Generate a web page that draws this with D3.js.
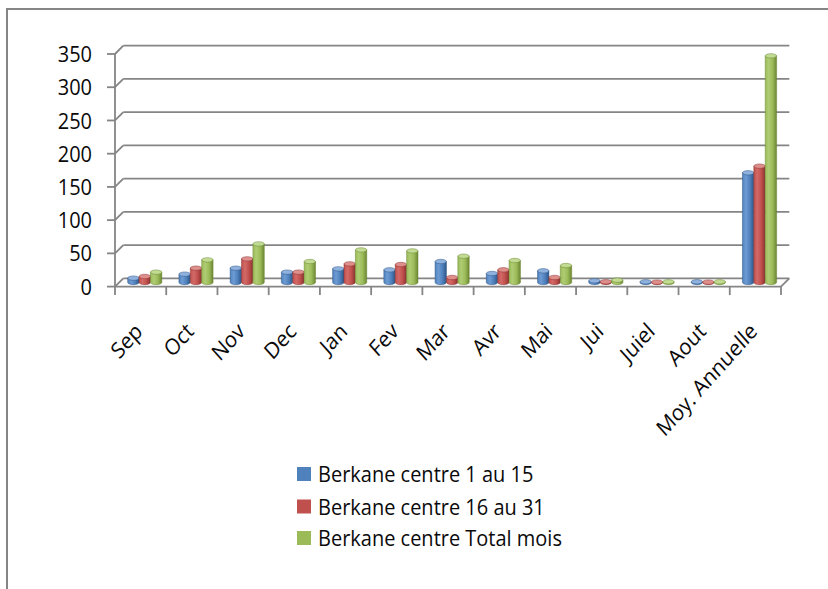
<!DOCTYPE html>
<html>
<head>
<meta charset="utf-8">
<script src="https://cdn.jsdelivr.net/npm/d3@7/dist/d3.min.js"></script>
<style>
  html, body { margin: 0; padding: 0; background: #fff; }
  svg { display: block; }
  text { font-family: "Open Sans", "Noto Sans", sans-serif; fill: #0a0a0a; }
</style>
</head>
<body>
<svg id="chart" width="828" height="589"></svg>
<script>
// Rainfall at Berkane centre, per half-month and per month (mm)
const categories = ["Sep", "Oct", "Nov", "Dec", "Jan", "Fev", "Mar", "Avr", "Mai", "Jui", "Juiel", "Aout", "Moy. Annuelle"];
const firstHalf  = [6.5, 12.5, 21.5, 15.5, 20.5, 19, 31.5, 13.5, 17.5, 2.5, 1, 1, 165];
const secondHalf = [9, 21.5, 35.5, 15.5, 28, 27, 7.5, 19, 7.5, 1, 0.5, 0.5, 175];
const monthTotal = [15.5, 34, 58, 31.5, 49, 47.5, 39.5, 33, 25.5, 3.5, 1, 1, 341];
const seriesNames = ["Berkane centre 1 au 15", "Berkane centre 16 au 31", "Berkane centre Total mois"];
const yTicks = [0, 50, 100, 150, 200, 250, 300, 350];

const series = [firstHalf, secondHalf, monthTotal];
const palette = [
  { dark: "#2f5687", mid: "#4f81bd", light: "#6e9bd3", top: "#8fb1de", swatch: "#4f81bd" },
  { dark: "#8a3230", mid: "#c0504d", light: "#d36a67", top: "#de8f8c", swatch: "#c0504d" },
  { dark: "#6b8633", mid: "#9bbb59", light: "#afcc73", top: "#c2db92", swatch: "#9bbb59" }
];

const svg = d3.select("#chart");
const grid = "#858585";
const textStretch = 1.12;   // glyphs are drawn slightly taller than wide

// frame of the chart area
svg.append("path")
  .attr("d", "M7,589 L7,9 L828,9")
  .attr("fill", "none").attr("stroke", grid).attr("stroke-width", 2);

// 3D box: back wall vs. front edge offset
const depth = 8.3;
const frontLeft = 115, frontRight = 781;

const yBack = d3.scaleLinear().domain([0, 350]).range([278.3, 45.7]);
const yFront = v => yBack(v) + depth;
const x = d3.scaleBand().domain(categories).range([frontLeft, frontRight]).padding(0);
const bw = x.bandwidth();
const xs = d3.scaleBand().domain(d3.range(series.length))
  .range([bw / 6, bw * 5 / 6]).padding(0);

// gradients for cylinder bodies
const defs = svg.append("defs");
palette.forEach((p, i) => {
  const g = defs.append("linearGradient").attr("id", "cyl" + i)
    .attr("x1", 0).attr("x2", 1).attr("y1", 0).attr("y2", 0);
  g.append("stop").attr("offset", 0).attr("stop-color", p.mid);
  g.append("stop").attr("offset", 0.3).attr("stop-color", p.light);
  g.append("stop").attr("offset", 0.65).attr("stop-color", p.mid);
  g.append("stop").attr("offset", 1).attr("stop-color", p.dark);
});

// back-wall gridlines with the short diagonals to the value axis
const sw = 1.8;
const gridG = svg.append("g");
yTicks.forEach(v => {
  gridG.append("line")
    .attr("x1", frontLeft + depth).attr("x2", frontRight + depth)
    .attr("y1", yBack(v)).attr("y2", yBack(v))
    .attr("stroke", grid).attr("stroke-width", sw);
  gridG.append("line")
    .attr("x1", frontLeft).attr("y1", yFront(v))
    .attr("x2", frontLeft + depth).attr("y2", yBack(v))
    .attr("stroke", grid).attr("stroke-width", sw);
  gridG.append("line")
    .attr("x1", frontLeft - 8).attr("x2", frontLeft)
    .attr("y1", yFront(v)).attr("y2", yFront(v))
    .attr("stroke", grid).attr("stroke-width", sw);
});
// value axis
gridG.append("line")
  .attr("x1", frontLeft).attr("x2", frontLeft)
  .attr("y1", yFront(350)).attr("y2", yFront(0))
  .attr("stroke", grid).attr("stroke-width", sw);
// floor front edge and right diagonal
gridG.append("line")
  .attr("x1", frontLeft).attr("x2", frontRight)
  .attr("y1", yFront(0)).attr("y2", yFront(0))
  .attr("stroke", grid).attr("stroke-width", sw);
gridG.append("line")
  .attr("x1", frontRight).attr("y1", yFront(0))
  .attr("x2", frontRight + depth).attr("y2", yBack(0))
  .attr("stroke", grid).attr("stroke-width", sw);
// category ticks
const tickXs = categories.map(c => x(c)).concat([frontRight]);
tickXs.forEach(tx => {
  gridG.append("line")
    .attr("x1", tx).attr("x2", tx)
    .attr("y1", yFront(0)).attr("y2", yFront(0) + 8.5)
    .attr("stroke", grid).attr("stroke-width", sw);
});

// value labels
svg.append("g").selectAll("text").data(yTicks).join("text")
  .attr("transform", d => `translate(92,${yFront(d)}) scale(1,${textStretch})`)
  .attr("dy", "0.36em")
  .attr("text-anchor", "end").attr("font-size", 20)
  .text(d => d);

// cylinders, placed at mid-depth of the box
const mid = depth / 2;
const ry = 2.2;
const barsG = svg.append("g");
categories.forEach((c, ci) => {
  series.forEach((vals, si) => {
    const v = vals[ci];
    const w = xs.bandwidth();
    const x0 = x(c) + xs(si) + mid;
    const yb = yBack(0) + mid;
    const yt = yBack(v) + mid;
    const rx = w / 2;
    barsG.append("path")
      .attr("d", `M${x0},${yt} L${x0},${yb} A${rx},${ry} 0 0 0 ${x0 + w},${yb} L${x0 + w},${yt} Z`)
      .attr("fill", `url(#cyl${si})`)
      .attr("stroke", palette[si].dark).attr("stroke-width", 0.5);
    barsG.append("ellipse")
      .attr("cx", x0 + rx).attr("cy", yt).attr("rx", rx).attr("ry", ry)
      .attr("fill", palette[si].top)
      .attr("stroke", palette[si].dark).attr("stroke-width", 0.5);
  });
});

// category labels, rotated
svg.append("g").selectAll("text").data(categories).join("text")
  .attr("transform", d => `translate(${x(d) + bw / 2 - 2},327) scale(1,${textStretch}) rotate(-45)`)
  .attr("dy", "0.36em")
  .attr("text-anchor", "end").attr("font-size", 20)
  .text(d => d);

// legend
const legend = svg.append("g");
const legendY = [474, 506.5, 538];
seriesNames.forEach((name, i) => {
  legend.append("rect")
    .attr("x", 297).attr("y", legendY[i] - 7).attr("width", 14).attr("height", 14)
    .attr("fill", palette[i].swatch);
  legend.append("text")
    .attr("transform", `translate(318,${legendY[i]}) scale(1,${textStretch})`)
    .attr("dy", "0.36em")
    .attr("font-size", 20)
    .text(name);
});
</script>
</body>
</html>
